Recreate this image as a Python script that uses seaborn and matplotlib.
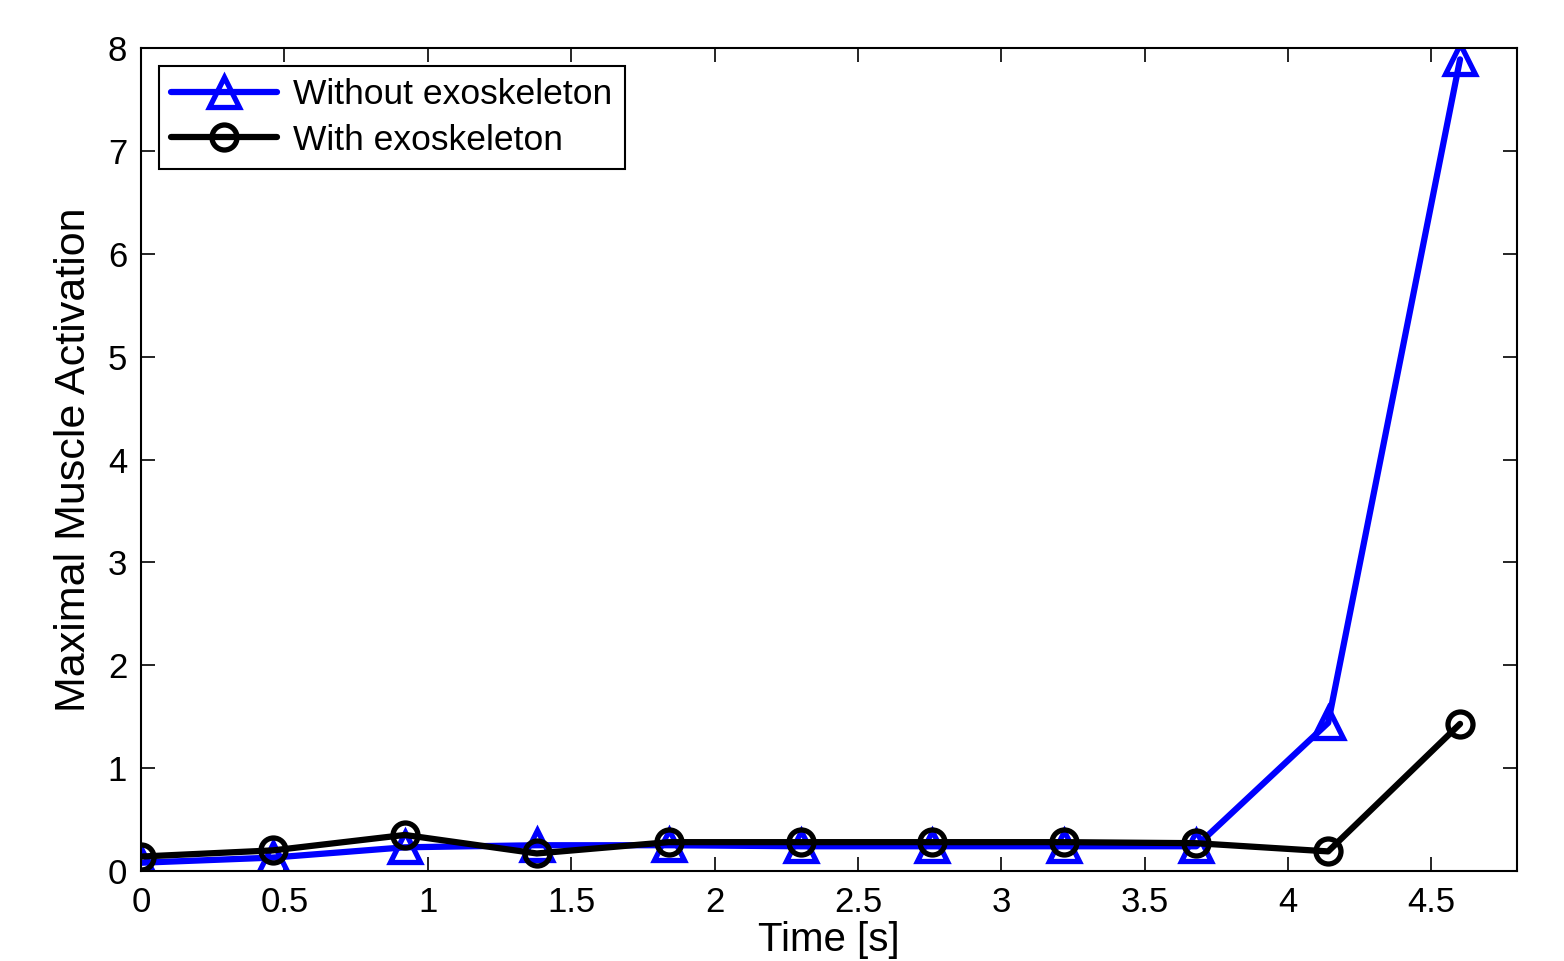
import numpy as np
import pandas as pd
import matplotlib
matplotlib.use("Agg")
import matplotlib.pyplot as plt
import seaborn as sns

# values
time_s = [0, 0.46, 0.92, 1.38, 1.84, 2.30, 2.76, 3.22, 3.68, 4.14, 4.60]
without_exo = [0.08, 0.13, 0.23, 0.25, 0.25, 0.24, 0.24, 0.24, 0.24, 1.44, 7.89]
with_exo = [0.14, 0.20, 0.35, 0.17, 0.28, 0.28, 0.28, 0.28, 0.27, 0.19, 1.43]
x_ticks = [0, 0.5, 1, 1.5, 2, 2.5, 3, 3.5, 4, 4.5]
x_tick_labels = ["0", "0.5", "1", "1.5", "2", "2.5", "3", "3.5", "4", "4.5"]
y_ticks = [0, 1, 2, 3, 4, 5, 6, 7, 8]

df = pd.DataFrame({"time": time_s, "without": without_exo, "with": with_exo})

sns.set_style("ticks")
plt.rcParams['font.family'] = ['Liberation Sans', 'DejaVu Sans']
plt.rcParams['text.color'] = 'black'
plt.rcParams['axes.labelcolor'] = 'black'
plt.rcParams['xtick.color'] = 'black'
plt.rcParams['ytick.color'] = 'black'

fig = plt.figure(figsize=(15.64, 9.61), dpi=100)
ax = fig.add_axes([0.0902, 0.0937, 0.8800, 0.8563])

sns.lineplot(data=df, x="time", y="without", ax=ax, color="#0000ff", linewidth=4.5,
             marker="^", markersize=22, markerfacecolor="none",
             markeredgecolor="#0000ff", markeredgewidth=3.8,
             label="Without exoskeleton")
sns.lineplot(data=df, x="time", y="with", ax=ax, color="black", linewidth=4.5,
             marker="o", markersize=18, markerfacecolor="none",
             markeredgecolor="black", markeredgewidth=3.8,
             label="With exoskeleton")

ax.set_xlim(0, 4.8)
ax.set_ylim(0, 8)
ax.set_xticks(x_ticks)
ax.set_xticklabels(x_tick_labels)
ax.set_yticks(y_ticks)
ax.tick_params(direction="in", top=True, right=True, length=10, width=1.2,
               labelsize=25, pad=10)
ax.tick_params(axis="x", pad=11)
for s in ax.spines.values():
    s.set_linewidth(1.5)
    s.set_edgecolor("black")
    s.set_visible(True)

ax.set_xlabel("Time [s]", fontsize=29, labelpad=1)
ax.set_ylabel("Maximal Muscle Activation", fontsize=31, labelpad=10)

leg = ax.legend(loc="upper left", fontsize=25.5, frameon=True, fancybox=False,
                edgecolor="black", framealpha=1, handlelength=3.0,
                borderaxespad=0.5, borderpad=0.35, labelspacing=0.35,
                handletextpad=0.45)
leg.get_frame().set_linewidth(1.5)

fig.savefig("out.png", dpi=100)
